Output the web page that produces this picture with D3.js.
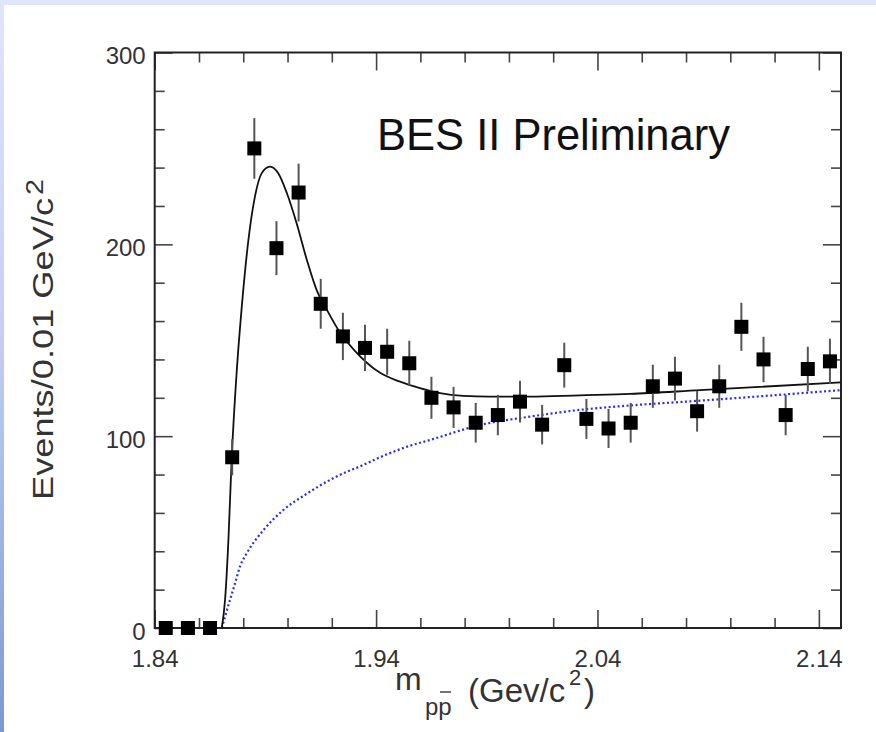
<!DOCTYPE html>
<html>
<head>
<meta charset="utf-8">
<script src="https://cdn.jsdelivr.net/npm/d3@7"></script>
<style>
  html, body { margin: 0; padding: 0; background: #fff; }
  svg { display: block; }
  text { font-family: "Liberation Sans", Arial, Helvetica, sans-serif; }
</style>
</head>
<body>
<script>
const W = 876, H = 732;

// bin centres (GeV/c^2) and event counts, 0.01 GeV bins
const binCenters = [1.845, 1.855, 1.865, 1.875, 1.885, 1.895, 1.905, 1.915, 1.925, 1.935,
  1.945, 1.955, 1.965, 1.975, 1.985, 1.995, 2.005, 2.015, 2.025, 2.035,
  2.045, 2.055, 2.065, 2.075, 2.085, 2.095, 2.105, 2.115, 2.125, 2.135, 2.145];
const events = [0, 0, 0, 89, 250, 198, 227, 169, 152, 146,
  144, 138, 120, 115, 107, 111, 118, 106, 137, 109,
  104, 107, 126, 130, 113, 126, 157, 140, 111, 135, 139];

// fit curve (solid)
const fitX = [1.8703, 1.8718, 1.8733, 1.8748, 1.877, 1.8793, 1.8823, 1.8853, 1.8883, 1.8921,
  1.8958, 1.8996, 1.9041, 1.9087, 1.9132, 1.9177, 1.9237, 1.93, 1.9418, 1.9508,
  1.9598, 1.9689, 1.9794, 1.9914, 2.0095, 2.0321, 2.0547, 2.0863, 2.15];
const fitY = [0, 15, 46, 89, 133, 167, 202, 225, 237, 240.5,
  237, 227, 211, 192, 176, 166, 154, 145, 133, 128.4,
  125, 122.4, 121, 120.6, 120.6, 121.3, 122, 124, 128];

// background shape (dotted blue)
const bgX = [1.8703, 1.874, 1.8763, 1.8785, 1.8816, 1.8891, 1.8981, 1.9087, 1.9222, 1.9342,
  1.9418, 1.9553, 1.9643, 1.9869, 2.0095, 2.0321, 2.0547, 2.0863, 2.15];
const bgY = [0, 14.6, 23.3, 32, 39, 51, 61.5, 70, 79, 85,
  89, 95, 98, 105.8, 110.2, 113.7, 116, 118.5, 124];

const xMajor = [1.84, 1.94, 2.04, 2.14];
const xMinor = [1.86, 1.88, 1.90, 1.92, 1.96, 1.98, 2.00, 2.02, 2.06, 2.08, 2.10, 2.12];
const yMajor = [0, 100, 200, 300];
const yMinor = [20, 40, 60, 80, 120, 140, 160, 180, 220, 240, 260, 280];

const pLeft = 154.7, pRight = 841, pTop = 52.5, pBottom = 628;

const svg = d3.select("body").append("svg").attr("width", W).attr("height", H);

// slide-ish backdrop: lavender band on top, blue fade on the left
const defs = svg.append("defs");
const grad = defs.append("linearGradient").attr("id", "lg").attr("x1", 0).attr("y1", 0).attr("x2", 0).attr("y2", 1);
grad.append("stop").attr("offset", "0%").attr("stop-color", "#dfe6fb");
grad.append("stop").attr("offset", "45%").attr("stop-color", "#c4d0f2");
grad.append("stop").attr("offset", "100%").attr("stop-color", "#7d97d6");
svg.append("rect").attr("width", W).attr("height", H).attr("fill", "#fff");
svg.append("rect").attr("width", W).attr("height", 5).attr("fill", "#dfe6fb");
svg.append("rect").attr("x", 0).attr("y", 0).attr("width", 4).attr("height", H).attr("fill", "url(#lg)");

const x = d3.scaleLinear().domain([1.84, 2.15]).range([pLeft, pRight]);
const y = d3.scaleLinear().domain([0, 300]).range([pBottom, pTop]);

// axes with ticks pointing inward
function styleAxis(g) {
  g.select(".domain").remove();
  g.selectAll(".tick line").attr("stroke", "#444").attr("stroke-width", 1.6);
  g.selectAll("text").attr("fill", "#333").attr("font-size", 24)
    .attr("font-family", "'Liberation Sans', Arial, sans-serif");
}

svg.append("g").attr("transform", `translate(0,${pBottom})`)
  .call(d3.axisBottom(x).tickValues(xMajor).tickSize(-18).tickFormat(d3.format(".2f")))
  .call(styleAxis)
  .call(g => g.selectAll("text").attr("y", 39).attr("dy", null));
svg.append("g").attr("transform", `translate(0,${pBottom})`)
  .call(d3.axisBottom(x).tickValues(xMinor).tickSize(-10).tickFormat(""))
  .call(styleAxis);
svg.append("g").attr("transform", `translate(0,${pTop})`)
  .call(d3.axisTop(x).tickValues(xMajor).tickSize(-18).tickFormat(""))
  .call(styleAxis);
svg.append("g").attr("transform", `translate(0,${pTop})`)
  .call(d3.axisTop(x).tickValues(xMinor).tickSize(-10).tickFormat(""))
  .call(styleAxis);

svg.append("g").attr("transform", `translate(${pLeft},0)`)
  .call(d3.axisLeft(y).tickValues(yMajor).tickSize(-18).tickPadding(9))
  .call(styleAxis)
  .call(g => g.selectAll("text").attr("dy", "0.46em"));
svg.append("g").attr("transform", `translate(${pLeft},0)`)
  .call(d3.axisLeft(y).tickValues(yMinor).tickSize(-10).tickFormat(""))
  .call(styleAxis);
svg.append("g").attr("transform", `translate(${pRight},0)`)
  .call(d3.axisRight(y).tickValues(yMajor).tickSize(-18).tickFormat(""))
  .call(styleAxis);
svg.append("g").attr("transform", `translate(${pRight},0)`)
  .call(d3.axisRight(y).tickValues(yMinor).tickSize(-10).tickFormat(""))
  .call(styleAxis);

// frame
svg.append("rect").attr("x", pLeft).attr("y", pTop)
  .attr("width", pRight - pLeft).attr("height", pBottom - pTop)
  .attr("fill", "none").attr("stroke", "#222").attr("stroke-width", 2);

// curves
const line = d3.line().x(d => x(d[0])).y(d => y(d[1])).curve(d3.curveMonotoneX);

svg.append("path").datum(bgX.map((v, i) => [v, bgY[i]]))
  .attr("d", line).attr("fill", "none")
  .attr("stroke", "#2a2aff").attr("stroke-width", 2.2).attr("stroke-dasharray", "2,2.5");

svg.append("path").datum(fitX.map((v, i) => [v, fitY[i]]))
  .attr("d", line).attr("fill", "none")
  .attr("stroke", "#111").attr("stroke-width", 1.8);

// data points with sqrt(N) errors
const pts = binCenters.map((c, i) => ({ c, n: events[i] }));

svg.selectAll("line.err").data(pts.filter(d => d.n > 0)).enter().append("line")
  .attr("class", "err")
  .attr("x1", d => x(d.c)).attr("x2", d => x(d.c))
  .attr("y1", d => y(d.n - Math.sqrt(d.n))).attr("y2", d => y(d.n + Math.sqrt(d.n)))
  .attr("stroke", "#555").attr("stroke-width", 2);

svg.selectAll("rect.pt").data(pts).enter().append("rect")
  .attr("class", "pt")
  .attr("x", d => x(d.c) - 7).attr("y", d => y(d.n) - 7)
  .attr("width", 14).attr("height", 14)
  .attr("fill", "#000");

// label inside the frame
svg.append("text").attr("x", 377).attr("y", 150)
  .attr("font-size", 44).attr("fill", "#111")
  .attr("textLength", 353).attr("lengthAdjust", "spacingAndGlyphs")
  .text("BES II Preliminary");

// y title
const yt = svg.append("g").attr("transform", "translate(53,500) rotate(-90)");
yt.append("text").attr("x", 0).attr("y", 0)
  .attr("font-size", 30).attr("fill", "#333")
  .attr("textLength", 302).attr("lengthAdjust", "spacingAndGlyphs")
  .text("Events/0.01 GeV/c");
yt.append("text").attr("x", 305).attr("y", -10)
  .attr("font-size", 24).attr("fill", "#333")
  .attr("textLength", 16).attr("lengthAdjust", "spacingAndGlyphs")
  .text("2");

// x title
const xt = svg.append("g").attr("fill", "#333");
xt.append("text").attr("x", 395).attr("y", 690).attr("font-size", 32).text("m");
xt.append("text").attr("x", 425).attr("y", 715).attr("font-size", 24).text("pp");
xt.append("line").attr("x1", 440).attr("x2", 451).attr("y1", 692).attr("y2", 692)
  .attr("stroke", "#444").attr("stroke-width", 1.5);
xt.append("text").attr("x", 468).attr("y", 702).attr("font-size", 33).text("(Gev/c");
xt.append("text").attr("x", 569).attr("y", 685).attr("font-size", 22).text("2");
xt.append("text").attr("x", 584).attr("y", 702).attr("font-size", 33).text(")");
</script>
</body>
</html>
